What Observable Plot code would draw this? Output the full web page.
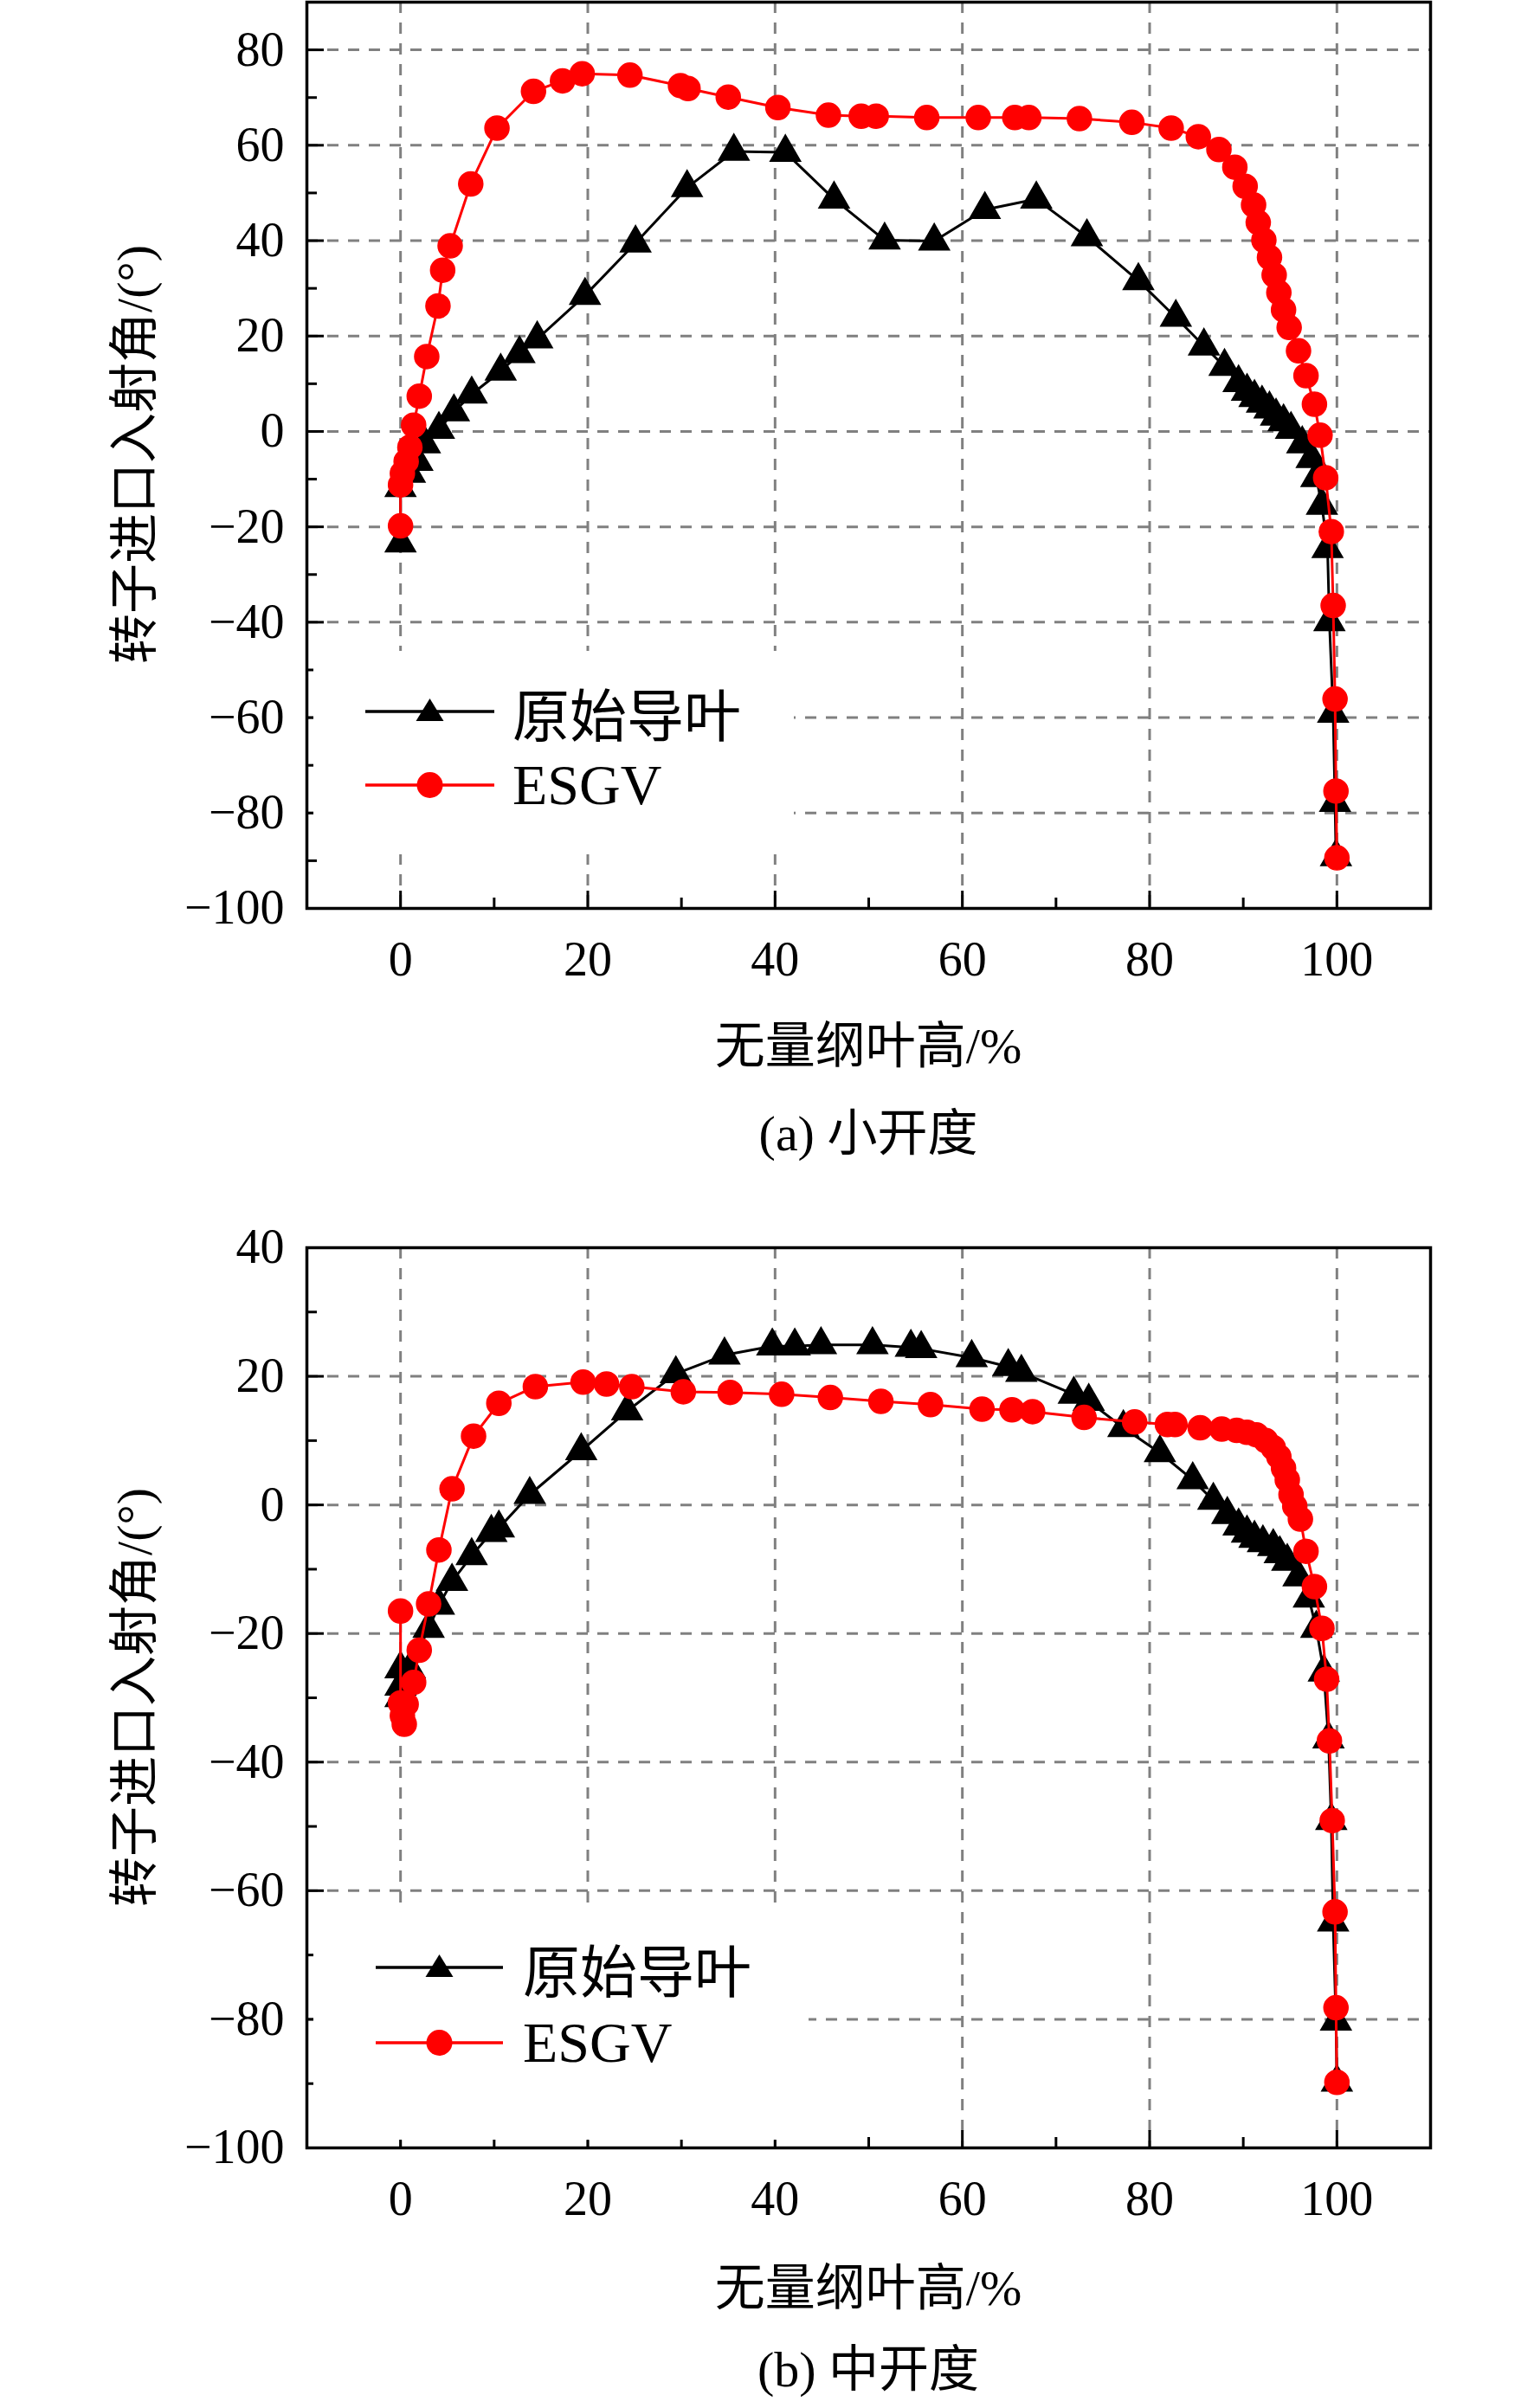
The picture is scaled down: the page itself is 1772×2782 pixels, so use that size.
<!DOCTYPE html>
<html><head><meta charset="utf-8">
<script src="https://cdn.jsdelivr.net/npm/d3@7"></script>
<script src="https://cdn.jsdelivr.net/npm/@observablehq/plot@0.6"></script>
<style>
body{margin:0;background:#fff;}
#wrap{position:relative;width:1772px;height:2782px;font-family:"Liberation Serif","Noto Sans CJK SC",serif;}
.abs{position:absolute;white-space:nowrap;}
.t{font-size:58px;color:#000;}
.leg{position:absolute;background:#fff;}
</style></head><body><div id="wrap"></div>
<script>
// ---- data: panel (a) 小开度 ----
const aOrigX=[0,0,1,1.8,2.6,4.1,5.7,7.6,10.7,12.7,14.6,19.7,25.1,30.6,35.6,41.1,46.3,51.7,57,62.4,67.9,73.3,78.8,82.8,85.8,88,89.5,90.4,91.2,92,92.8,93.5,94.3,95.1,96.3,97.3,97.8,98.4,99,99.2,99.6,99.8,99.9];
const aOrigY=[-23.4,-11.8,-8.8,-6.3,-2.6,0.4,4.1,7.8,12.6,16.3,19.4,28.5,39.5,51.1,58.7,58.5,48.7,40.1,39.9,46.5,48.7,40.8,31.6,23.9,17.9,13.6,10.2,8.4,7.1,5.9,4.7,3.2,2,0.4,-2.6,-5.7,-9.7,-15.5,-24.6,-39.9,-59.1,-77.8,-89.2];
const aEsgvX=[0,0,0.2,0.6,1,1.4,2,2.8,4,4.5,5.3,7.5,10.3,14.2,17.3,19.4,24.5,29.9,30.7,35,40.3,45.7,49.2,50.8,56.2,61.7,65.6,67.1,72.5,78.1,82.3,85.2,87.4,89.1,90.2,91.1,91.6,92.2,92.8,93.3,93.8,94.3,94.9,95.9,96.7,97.6,98.2,98.8,99.4,99.6,99.8,99.9,100];
const aEsgvY=[-19.8,-11.2,-8.8,-6.3,-3.3,1.3,7.4,15.7,26.3,33.8,38.9,51.9,63.6,71.3,73.5,75,74.7,72.5,71.9,70.1,67.9,66.3,66.1,66.1,65.8,65.8,65.8,65.8,65.6,64.8,63.6,61.8,59.1,55.4,51.4,47.5,43.8,40.1,36.5,32.8,29.1,25.5,21.8,16.9,11.7,5.7,-0.8,-9.7,-21,-36.5,-56.1,-75.4,-89.4];
// ---- data: panel (b) 中开度 ----
const bOrigX=[0,0,0,1,3,4.1,5.5,7.6,9.7,10.5,13.8,19.3,24.2,29.4,34.6,39.7,42.1,44.9,50.4,54.5,55.6,61,64.9,66.3,71.9,73.5,77.2,81.1,84.6,86.8,88.3,89.5,90.4,91.2,92.1,93.2,93.9,94.7,95.9,97,97.8,98.6,99.1,99.4,99.6,99.9,100];
const bOrigY=[-30,-28.2,-25.5,-25.5,-19.2,-15.6,-11.9,-7.9,-4.3,-3.6,1.6,8.4,14.6,20.4,23.3,24.7,24.7,24.9,24.9,24.5,24.3,22.9,21.5,20.6,17.2,16.1,12,8.1,3.9,0.7,-1.5,-3.3,-4.4,-5.2,-5.9,-6.5,-7.6,-8.8,-11.2,-14.5,-19.2,-26,-36.4,-49.1,-64.9,-80.3,-89.8];
const bEsgvX=[0,0,0.2,0.4,0.6,1.4,2,3,4.1,5.5,7.8,10.5,14.4,19.5,22,24.7,30.2,35.2,40.7,45.9,51.3,56.6,62.1,65.3,67.5,73,78.4,81.9,82.7,85.4,87.7,89.3,90.4,91.4,92.4,93.2,93.8,94.3,94.7,95.1,95.5,96.1,96.7,97.6,98.4,98.9,99.2,99.5,99.8,99.9,100];
const bEsgvY=[-16.5,-30.8,-32.8,-34.1,-31,-27.6,-22.6,-15.4,-7,2.5,10.7,15.8,18.4,19.1,18.8,18.4,17.6,17.5,17.2,16.7,16.1,15.6,14.9,14.8,14.5,13.6,12.9,12.5,12.5,12,11.8,11.6,11.3,10.9,10,8.9,7.5,5.7,3.9,1.6,-0.2,-2.2,-7.2,-12.7,-19.2,-27.1,-36.7,-49.1,-63.3,-78.2,-89.8];
const xTicks=[0,20,40,60,80,100];
const xMinor=[-10,10,30,50,70,90,110];
const aYTicks=[-100,-80,-60,-40,-20,0,20,40,60,80];
const bYTicks=[-100,-80,-60,-40,-20,0,20,40];
const seriesNames=["原始导叶","ESGV"];
const xTitle="无量纲叶高/%";
const yTitle="转子进口入射角/(°)";
const captions=["(a) 小开度","(b) 中开度"];

const wrap=document.getElementById("wrap");
const zip=(xs,ys)=>xs.map((x,i)=>({x,y:ys[i]}));
function panel(top,yDomain,yTicks,ox,oy,ex,ey,frameBottom){
  const yMinor=d3.range(yDomain[0]+10,yDomain[1],20);
  const mt=40, mb=81, h=frameBottom-top+mt+mb;
  const gridStyle={stroke:"#808080",strokeOpacity:1,strokeWidth:3,strokeDasharray:"13,11"};
  const o=zip(ox,oy), e=zip(ex,ey);
  const svg=Plot.plot({
    width:1772,height:h,marginLeft:354,marginRight:120,marginTop:mt,marginBottom:mb,
    style:{fontFamily:"Liberation Serif, serif",fontSize:"56px",color:"#000",background:"transparent",overflow:"visible"},
    x:{domain:[-10,110]},y:{domain:yDomain},
    marks:[
      Plot.gridX(xTicks,gridStyle),
      Plot.gridY(yTicks,gridStyle),
      Plot.line(o,{x:"x",y:"y",stroke:"#000",strokeWidth:3}),
      Plot.dot(o,{x:"x",y:"y",symbol:"triangle",r:13,fill:"#000",stroke:"#000"}),
      Plot.line(e,{x:"x",y:"y",stroke:"#f00",strokeWidth:3}),
      Plot.dot(e,{x:"x",y:"y",symbol:"circle",r:14,fill:"#f00",stroke:"#f00"}),
      Plot.axisX(xTicks,{tickSize:-20,tickPadding:58,label:null,fontSize:56,strokeWidth:3}),
      Plot.axisX(xMinor,{tickSize:-12,text:null,label:null,strokeWidth:3}),
      Plot.axisY(yTicks,{tickSize:-20,tickPadding:46,label:null,fontSize:56,strokeWidth:3,tickFormat:d=>d<0?"\u2212"+(-d):d}),
      Plot.axisY(yMinor,{tickSize:-12,text:null,label:null,strokeWidth:3}),
      Plot.frame({stroke:"#000",strokeWidth:3.5})
    ]
  });
  svg.style.position="absolute";svg.style.left="0px";svg.style.top=(top-mt)+"px";svg.style.overflow="visible";
  wrap.appendChild(svg);
}
function txt(s,x,y,cls,rot){
  const d=document.createElement("div");d.className="abs "+cls;d.textContent=s;
  d.style.left=x+"px";d.style.top=y+"px";
  d.style.transform="translate(-50%,-50%)"+(rot?" rotate(-90deg)":"");
  wrap.appendChild(d);
}
function legend(box,rows){
  const b=document.createElement("div");b.className="leg";
  Object.assign(b.style,{left:box[0]+"px",top:box[1]+"px",width:box[2]+"px",height:box[3]+"px"});
  wrap.appendChild(b);
  rows.forEach(r=>{
    const ns="http://www.w3.org/2000/svg";
    const s=document.createElementNS(ns,"svg");
    s.setAttribute("width",r.x2-r.x1+40);s.setAttribute("height",40);
    s.style.position="absolute";s.style.left=(r.x1-20)+"px";s.style.top=(r.y-20)+"px";
    const l=document.createElementNS(ns,"line");
    l.setAttribute("x1",20);l.setAttribute("x2",r.x2-r.x1+20);l.setAttribute("y1",20);l.setAttribute("y2",20);
    l.setAttribute("stroke",r.c);l.setAttribute("stroke-width",3.5);s.appendChild(l);
    const cx=(r.x2-r.x1)/2+20;
    let m;
    if(r.sym==="tri"){m=document.createElementNS(ns,"path");m.setAttribute("d",`M${cx},5L${cx+16},31L${cx-16},31Z`);}
    else{m=document.createElementNS(ns,"circle");m.setAttribute("cx",cx);m.setAttribute("cy",20);m.setAttribute("r",15);}
    m.setAttribute("fill",r.c);s.appendChild(m);wrap.appendChild(s);
    const t=document.createElement("div");t.className="abs";t.textContent=r.s;
    Object.assign(t.style,{left:r.tx+"px",top:r.y+"px",transform:"translateY(-50%)",fontSize:"66px"});
    wrap.appendChild(t);
  });
}
// panel a
panel(2,[-100,90],aYTicks,aOrigX,aOrigY,aEsgvX,aEsgvY,1049);
legend([362,752,555,235],[
  {x1:422,x2:571,y:822,c:"#000",sym:"tri",s:seriesNames[0],tx:592},
  {x1:422,x2:571,y:907,c:"#f00",sym:"cir",s:seriesNames[1],tx:592}]);
txt(xTitle,1003,1203,"t");
txt(captions[0],1003,1304,"t");
txt(yTitle,150,525,"t",true);
// panel b
panel(1441,[-100,40],bYTicks,bOrigX,bOrigY,bEsgvX,bEsgvY,2481);
legend([362,2200,572,272],[
  {x1:434,x2:581,y:2273,c:"#000",sym:"tri",s:seriesNames[0],tx:604},
  {x1:434,x2:581,y:2360,c:"#f00",sym:"cir",s:seriesNames[1],tx:604}]);
txt(xTitle,1003,2638,"t");
txt(captions[1],1003,2732,"t");
txt(yTitle,150,1961,"t",true);
</script></body></html>
